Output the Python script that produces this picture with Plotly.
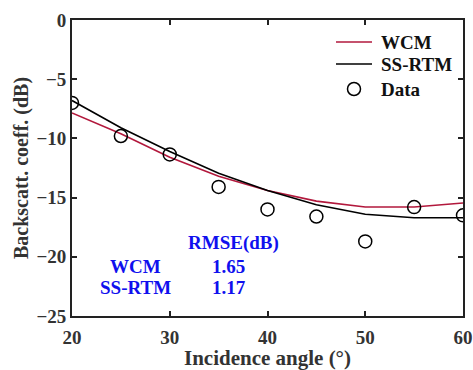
import plotly.graph_objects as go

angles = [20, 25, 30, 35, 40, 45, 50, 55, 60]
data_vals = [-7.0, -9.8, -11.35, -14.1, -16.0, -16.6, -18.7, -15.8, -16.5]
wcm_vals = [-7.85, -9.6, -11.6, -13.2, -14.4, -15.3, -15.8, -15.8, -15.45]
ssrtm_vals = [-6.8, -9.1, -11.1, -12.95, -14.4, -15.6, -16.4, -16.7, -16.7]

FONT = "Liberation Serif"
RED = "#b2183c"

fig = go.Figure()
fig.add_trace(go.Scatter(x=angles, y=wcm_vals, mode="lines", name="WCM",
                         line=dict(color=RED, width=1.6)))
fig.add_trace(go.Scatter(x=angles, y=ssrtm_vals, mode="lines", name="SS-RTM",
                         line=dict(color="black", width=1.6)))
fig.add_trace(go.Scatter(x=angles, y=data_vals, mode="markers", name="Data",
                         marker=dict(symbol="circle-open", size=13, color="black",
                                     line=dict(width=1.5, color="black"))))

blue = "#1010ee"
anns = [
    ("<b>RMSE(dB)</b>", 36.57, -18.8),
    ("<b>WCM</b>", 26.45, -20.83),
    ("<b>1.65</b>", 36.06, -20.83),
    ("<b>SS-RTM</b>", 26.45, -22.6),
    ("<b>1.17</b>", 36.06, -22.6),
]
for t, x, y in anns:
    fig.add_annotation(x=x, y=y, text=t, showarrow=False, xref="x", yref="y",
                       font=dict(family=FONT, size=19, color=blue))

# manual legend (pixel layout converted to paper coordinates)
L, R_, T, B = 72, 463, 20, 316
px = lambda v: (v - L) / (R_ - L)
py = lambda v: (B - v) / (B - T)
leg_rows = [("WCM", 42, RED, "line"), ("SS-RTM", 64, "black", "line"), ("Data", 89, "black", "marker")]
for name, yy, col, kind in leg_rows:
    if kind == "line":
        fig.add_shape(type="line", xref="paper", yref="paper", x0=px(336), x1=px(372),
                      y0=py(yy), y1=py(yy), line=dict(color=col, width=1.6))
    else:
        fig.add_shape(type="circle", xref="paper", yref="paper", x0=px(347.5), x1=px(360.5),
                      y0=py(yy + 6.5), y1=py(yy - 6.5), line=dict(color=col, width=1.5))
    fig.add_annotation(x=px(379), y=py(yy), xref="paper", yref="paper", text="<b>%s</b>" % name,
                       showarrow=False, xanchor="left", yanchor="middle",
                       font=dict(family=FONT, size=19, color="#111"))

fig.update_layout(
    width=473, height=370,
    margin=dict(l=72, r=10, t=20, b=54),
    plot_bgcolor="white", paper_bgcolor="white",
    font=dict(family=FONT, size=19, color="#222"),
    showlegend=False,
)
fig.update_xaxes(range=[20, 60], tickvals=[20, 30, 40, 50, 60],
                 ticktext=["<b>%d</b>" % v for v in [20, 30, 40, 50, 60]],
                 ticks="inside", ticklen=5, tickwidth=1.5, tickcolor="#222",
                 ticklabelstandoff=3, automargin=False,
                 showline=True, linewidth=1.8, linecolor="#222", mirror="ticks",
                 showgrid=False, zeroline=False,
                 tickfont=dict(family=FONT, size=19, color="#333"),
                 title=dict(text="<b>Incidence angle (°)</b>", standoff=3,
                            font=dict(family=FONT, size=21, color="#333")))
fig.update_yaxes(range=[-25, 0], tickvals=[-25, -20, -15, -10, -5, 0],
                 ticktext=["<b>−25</b>", "<b>−20</b>", "<b>−15</b>", "<b>−10</b>", "<b>−5</b>", "<b>0</b>"],
                 ticks="inside", ticklen=5, tickwidth=1.5, tickcolor="#222",
                 automargin=False,
                 showline=True, linewidth=1.8, linecolor="#222", mirror="ticks",
                 showgrid=False, zeroline=False,
                 tickfont=dict(family=FONT, size=19, color="#333"),
                 title=dict(text="<b>Backscatt. coeff. (dB)</b>", standoff=2,
                            font=dict(family=FONT, size=20, color="#333")))

fig.write_html("out.html")
